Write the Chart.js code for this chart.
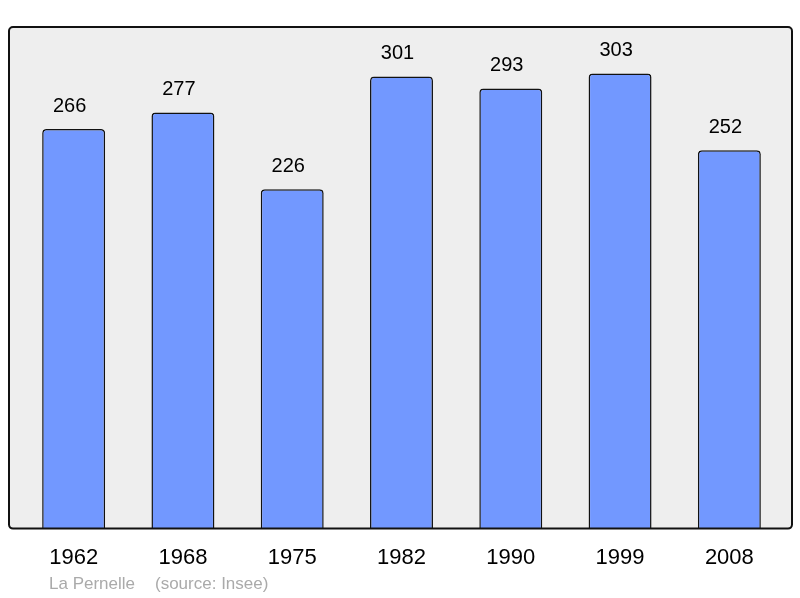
<!DOCTYPE html>
<html>
<head>
<meta charset="utf-8">
<script src="https://cdn.jsdelivr.net/npm/chart.js@4"></script>
<style>
  html, body { margin: 0; padding: 0; background: #fff; }
  #wrap { width: 800px; height: 598px; }
</style>
</head>
<body>
<div id="wrap"><canvas id="popChart" width="800" height="598"></canvas></div>
<script>
// population by census year
const years = ['1962', '1968', '1975', '1982', '1990', '1999', '2008'];
const population = [266, 277, 226, 301, 293, 303, 252];
const placeName = 'La Pernelle';
const sourceText = '(source: Insee)';

// frame + grey background behind the bars, a bit wider than the category scale
const framePlugin = {
    id: 'frame',
    beforeDatasetsDraw(chart) {
        const { ctx, chartArea: a } = chart;
        const x = a.left - 10, y = a.top, w = a.right + 8 - x, h = a.bottom - a.top;
        ctx.save();
        ctx.beginPath();
        ctx.roundRect(x, y, w, h, 4);
        ctx.fillStyle = '#eeeeee';
        ctx.fill();
        ctx.restore();
    },
    afterDatasetsDraw(chart) {
        const { ctx, chartArea: a } = chart;
        const x = a.left - 10, y = a.top, w = a.right + 8 - x, h = a.bottom - a.top;
        ctx.save();
        ctx.beginPath();
        ctx.roundRect(x, y, w, h, 4);
        ctx.lineWidth = 2;
        ctx.strokeStyle = '#111';
        ctx.stroke();

        // values above the bars (the original sits them a little left of centre)
        const meta = chart.getDatasetMeta(0);
        ctx.font = '20px "Liberation Sans", Arial, sans-serif';
        ctx.fillStyle = '#000';
        ctx.textAlign = 'center';
        ctx.textBaseline = 'middle';
        meta.data.forEach((bar, i) => {
            ctx.fillText(String(population[i]), bar.x - 4, bar.y - 23);
        });

        // footer
        ctx.font = '17px "Liberation Sans", Arial, sans-serif';
        ctx.fillStyle = '#aaaaaa';
        ctx.textAlign = 'left';
        ctx.fillText(placeName, 49, 584);
        ctx.fillText(sourceText, 155, 584);
        ctx.restore();
    }
};

const ctx = document.getElementById('popChart').getContext('2d');
new Chart(ctx, {
    type: 'bar',
    data: {
        labels: years,
        datasets: [{
            data: population,
            backgroundColor: '#7298ff',
            borderColor: '#111',
            borderWidth: 1.5,
            borderRadius: 4,
            barPercentage: 0.576,
            categoryPercentage: 1
        }]
    },
    options: {
        responsive: false,
        animation: false,
        layout: { padding: { top: 27, left: 19, right: 16, bottom: 19 } },
        plugins: { legend: { display: false }, tooltip: { enabled: false } },
        scales: {
            x: {
                grid: { display: false },
                border: { display: false },
                ticks: {
                    color: '#000',
                    padding: 8,
                    font: { family: '"Liberation Sans", Arial, sans-serif', size: 22 }
                }
            },
            y: {
                display: false,
                min: 0,
                max: 334
            }
        }
    },
    plugins: [framePlugin]
});
</script>
</body>
</html>
